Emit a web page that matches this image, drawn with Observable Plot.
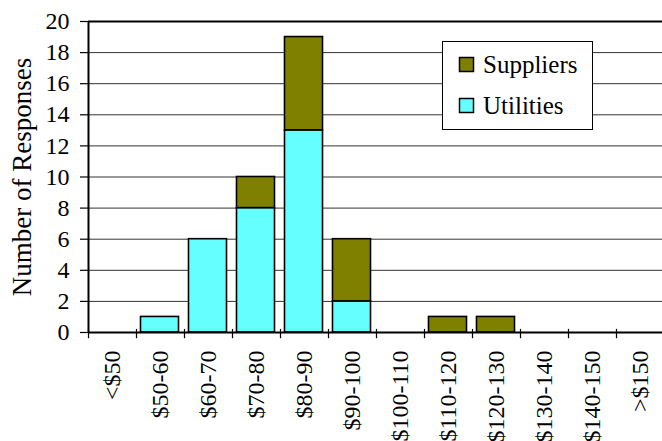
<!DOCTYPE html>
<html>
<head>
<meta charset="utf-8">
<script src="https://cdn.jsdelivr.net/npm/d3@7"></script>
<script src="https://cdn.jsdelivr.net/npm/@observablehq/plot@0.6"></script>
<style>
  html, body { margin: 0; padding: 0; background: #fff; }
  #chart { position: relative; width: 662px; height: 441px; overflow: hidden; }
</style>
</head>
<body>
<div id="chart"></div>
<script>
const categories = ["<$50", "$50-60", "$60-70", "$70-80", "$80-90", "$90-100", "$100-110", "$110-120", "$120-130", "$130-140", "$140-150", ">$150"];
const utilities = [0, 1, 6, 8, 13, 2, 0, 0, 0, 0, 0, 0];
const suppliers = [0, 0, 0, 2, 6, 4, 0, 1, 1, 0, 0, 0];
const seriesNames = ["Utilities", "Suppliers"];
const seriesColors = ["#66FFFF", "#808000"];
const yTicks = [0, 2, 4, 6, 8, 10, 12, 14, 16, 18, 20];

const rows = [];
categories.forEach((c, i) => {
  rows.push({cat: c, series: "Utilities", value: utilities[i]});
  rows.push({cat: c, series: "Suppliers", value: suppliers[i]});
});
const nonZero = rows.filter(d => d.value > 0);

const FONT = "Liberation Serif, Times New Roman, serif";
const W = 662, H = 441, ML = 88, MR = -2, MT = 21, MB = 109;
const step = (W - ML - MR) / categories.length;

const chart = Plot.plot({
  width: W,
  height: H,
  marginLeft: ML,
  marginRight: MR,
  marginTop: MT,
  marginBottom: MB,
  style: {fontFamily: FONT, fontSize: "24px", background: "#fff", color: "#000", overflow: "visible"},
  x: {domain: categories, padding: 0, label: null},
  y: {domain: [0, 20], label: null},
  color: {domain: seriesNames, range: seriesColors},
  marks: [
    Plot.gridY(yTicks, {stroke: "#333", strokeOpacity: 1, strokeWidth: 1}),
    Plot.barY(nonZero, Plot.stackY({x: "cat", y: "value", fill: "series", order: seriesNames, stroke: "#000", strokeWidth: 1.6, insetLeft: 4.5, insetRight: 5.5})),
    Plot.ruleY([0], {stroke: "#000", strokeWidth: 2}),
    Plot.ruleY([20], {stroke: "#000", strokeWidth: 2}),
    Plot.ruleX([categories[0]], {x: d => d, dx: -step / 2, y1: 0, y2: 20, stroke: "#000", strokeWidth: 2}),
    Plot.ruleX(categories, {x: d => d, dx: -step / 2, y1: 0.2, y2: -0.4, stroke: "#000", strokeWidth: 1.2}),
    Plot.axisY(yTicks, {tickSize: 8, tickPadding: 11, strokeWidth: 1.2, label: null, fontFamily: FONT, fontSize: 24}),
    Plot.axisX({tickSize: 0, tickPadding: 18, tickRotate: -90, label: null, fontFamily: FONT, fontSize: 24}),
    Plot.text(["Number of Responses"], {frameAnchor: "left", textAnchor: "middle", rotate: -90, dx: -66, fontSize: 27, fontFamily: FONT})
  ]
});

document.getElementById("chart").appendChild(chart);

// Legend inside the plot area
const svg = d3.select(chart);
const lg = svg.append("g").attr("font-family", FONT).attr("font-size", 25).attr("text-anchor", "start");
lg.append("rect").attr("x", 442.5).attr("y", 41.5).attr("width", 150).attr("height", 88).attr("fill", "#fff").attr("stroke", "#000").attr("stroke-width", 1);
const legendItems = [{name: "Suppliers", color: seriesColors[1]}, {name: "Utilities", color: seriesColors[0]}];
legendItems.forEach((it, i) => {
  const y0 = 57.5 + i * 41;
  lg.append("rect").attr("x", 459.5).attr("y", y0).attr("width", 14).attr("height", 14).attr("fill", it.color).attr("stroke", "#000").attr("stroke-width", 1.5);
  lg.append("text").attr("x", 483).attr("y", y0 + 15.5).attr("fill", "#000").attr("text-anchor", "start").text(it.name);
});
</script>
</body>
</html>
